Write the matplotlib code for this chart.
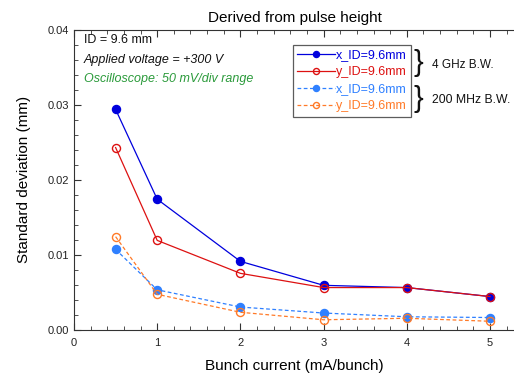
import matplotlib
matplotlib.use("Agg")
import matplotlib.pyplot as plt
from matplotlib.ticker import MultipleLocator, FormatStrFormatter

plt.rcParams['font.family'] = ['Liberation Sans', 'DejaVu Sans']

current = [0.5, 1, 2, 3, 4, 5]
x_4ghz = [0.0294, 0.0174, 0.0091, 0.0059, 0.0056, 0.0044]
y_4ghz = [0.0243, 0.0119, 0.0075, 0.0056, 0.0056, 0.0044]
x_200mhz = [0.0107, 0.0053, 0.0030, 0.0022, 0.0017, 0.0016]
y_200mhz = [0.0124, 0.0047, 0.0023, 0.0013, 0.0015, 0.0011]
labels = ['x_ID=9.6mm', 'y_ID=9.6mm', 'x_ID=9.6mm', 'y_ID=9.6mm']

W, H = 514, 376
fig = plt.figure(figsize=(W/100, H/100), dpi=100)
left, right, top, bottom = 74, 515, 30, 329.5
ax = fig.add_axes([left/W, 1-bottom/H, (right-left)/W, (bottom-top)/H])

c_blue = '#0000dd'
c_red = '#dd1111'
c_lblue = '#2f80ff'
c_orange = '#ff7a28'

ms = 5.8
ax.plot(current, x_4ghz, '-', color=c_blue, lw=0.9, marker='o', ms=ms,
        mfc=c_blue, mec=c_blue, label=labels[0])
ax.plot(current, y_4ghz, '-', color=c_red, lw=0.9, marker='o', ms=ms,
        mfc='none', mec=c_red, mew=1.0, label=labels[1])
ax.plot(current, x_200mhz, '--', color=c_lblue, lw=0.9, marker='o', ms=ms,
        mfc=c_lblue, mec=c_lblue, label=labels[2], dashes=(3, 2))
ax.plot(current, y_200mhz, '--', color=c_orange, lw=0.9, marker='o', ms=ms,
        mfc='none', mec=c_orange, mew=1.0, label=labels[3], dashes=(3, 2))

ax.set_xlim(0, 5.3)
ax.set_ylim(0, 0.04)
ax.xaxis.set_major_locator(MultipleLocator(1))
ax.xaxis.set_minor_locator(MultipleLocator(0.2))
ax.yaxis.set_major_locator(MultipleLocator(0.01))
ax.yaxis.set_minor_locator(MultipleLocator(0.002))
ax.yaxis.set_major_formatter(FormatStrFormatter('%.2f'))
ax.tick_params(which='both', direction='in', top=True, right=False,
               labelsize=8, colors='#333333', labelcolor='#222222')
ax.tick_params(which='major', length=5, width=0.8)
ax.tick_params(which='minor', length=3, width=0.6)
ax.tick_params(axis='x', pad=6)
for s in ['left', 'bottom', 'top']:
    ax.spines[s].set_color('#333333')
    ax.spines[s].set_linewidth(0.8)
ax.spines['right'].set_visible(False)

ax.set_xlabel('Bunch current (mA/bunch)', fontsize=11, labelpad=8)
ax.set_ylabel('Standard deviation (mm)', fontsize=11, labelpad=12)
ax.set_title('Derived from pulse height', fontsize=11, pad=6)

def fx(px):
    return px / W
def fy(py):
    return 1 - py / H

fig.text(fx(84), fy(40), 'ID = 9.6 mm', fontsize=9, va='center', color='#111111')
fig.text(fx(84), fy(60), 'Applied voltage = +300 V', fontsize=9, va='center',
         style='italic', color='#111111')
fig.text(fx(84), fy(79), 'Oscilloscope: 50 mV/div range', fontsize=9,
         va='center', style='italic', color='#2a9a3a')

leg = ax.legend(loc='upper left', bbox_to_anchor=(fx(293), fy(45)),
                bbox_transform=fig.transFigure, fontsize=9,
                labelcolor='linecolor', frameon=True, fancybox=False,
                handlelength=3.0, handletextpad=0.1, borderpad=0.35,
                labelspacing=0.4, borderaxespad=0, markerscale=0.75)
leg.get_frame().set_edgecolor('#333333')
leg.get_frame().set_linewidth(0.9)

fig.text(fx(414), fy(63), '}', fontsize=21, va='center', ha='left',
         color='#111111')
fig.text(fx(414), fy(99), '}', fontsize=21, va='center', ha='left',
         color='#111111')
fig.text(fx(432), fy(65), '4 GHz B.W.', fontsize=8.5, va='center', color='#111111')
fig.text(fx(432), fy(100), '200 MHz B.W.', fontsize=8.8, va='center', color='#111111')

fig.savefig('out.png', dpi=100)
